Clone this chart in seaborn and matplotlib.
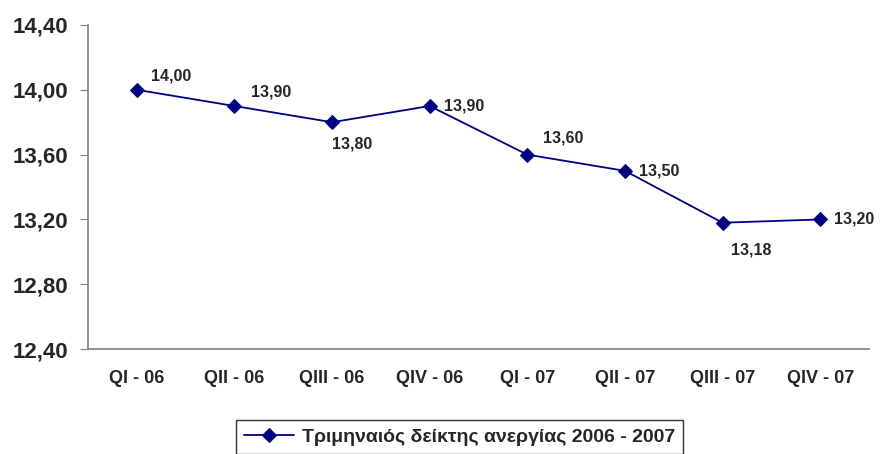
import numpy as np
import pandas as pd
import matplotlib
matplotlib.use("Agg")
import matplotlib.pyplot as plt
import seaborn as sns

# Datos del gráfico
quarters = ['QI - 06', 'QII - 06', 'QIII - 06', 'QIV - 06', 'QI - 07', 'QII - 07', 'QIII - 07', 'QIV - 07']
values = [14.00, 13.90, 13.80, 13.90, 13.60, 13.50, 13.18, 13.20]
y_ticks = [12.40, 12.80, 13.20, 13.60, 14.00, 14.40]
series_name = 'Τριμηναιός δείκτης ανεργίας 2006 - 2007'

df = pd.DataFrame({'pos': np.arange(len(quarters)), 'valor': values, 'serie': series_name})

sns.set_style("white")
plt.rcParams['font.family'] = ['Liberation Sans', 'DejaVu Sans']
plt.rcParams['font.weight'] = 'bold'

fig = plt.figure(figsize=(8.8, 4.54), dpi=100)
ax = fig.add_axes([0.1, 0.231, 0.8875, 0.714])

navy = '#000080'
sns.lineplot(data=df, x='pos', y='valor', hue='serie', palette=[navy], marker='D',
             markersize=7, markeredgecolor=navy, linewidth=1.3, ax=ax)

# Etiquetas de datos (desplazamiento en puntos)
offsets = [(10, 10), (12, 10), (0, -16), (10, 0), (11, 12), (10, 0), (6, -20), (10, 0)]
for i, (v, off) in enumerate(zip(values, offsets)):
    ax.annotate(f'{v:.2f}'.replace('.', ','), (i, v), xytext=off, textcoords='offset points',
                ha='left', va='center', fontsize=11.5, fontweight='bold')

ax.set_xlim(-0.5, len(quarters) - 0.5)
ax.set_ylim(12.40, 14.40)
ax.set_yticks(y_ticks)
ax.set_yticklabels([f'{t:.2f}'.replace('.', ',') for t in y_ticks], fontsize=16, fontweight='bold')
ax.set_xticks(np.arange(len(quarters)))
ax.set_xticklabels(quarters, fontsize=13, fontweight='bold')
ax.set_xticks(np.arange(-0.5, len(quarters)), minor=True)
ax.tick_params(axis='x', which='major', length=0, pad=15)
ax.tick_params(axis='x', which='minor', length=5, color='#808080', direction='out')
ax.tick_params(axis='y', length=6, color='#808080', direction='out', left=True, pad=8)
ax.set_xlabel('')
ax.set_ylabel('')

sns.despine(ax=ax)
for s in ['left', 'bottom']:
    ax.spines[s].set_color('#808080')
    ax.spines[s].set_linewidth(1.2)

leg = ax.legend(loc='upper center', bbox_to_anchor=(0.522, 0.074), bbox_transform=fig.transFigure,
                frameon=True, fancybox=False, handlelength=2.6, handletextpad=0.4, borderpad=0.4,
                borderaxespad=0, prop={'weight': 'bold', 'size': 14})
leg.get_frame().set_edgecolor('black')
leg.get_frame().set_linewidth(1.0)

plt.savefig('out.png', dpi=100)
